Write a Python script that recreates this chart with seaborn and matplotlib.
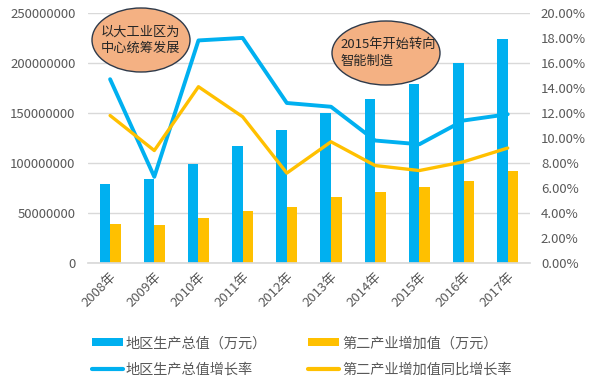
import numpy as np
import pandas as pd
import matplotlib
matplotlib.use("Agg")
import matplotlib.pyplot as plt
from matplotlib.patches import Ellipse, Patch
from matplotlib.lines import Line2D
from matplotlib.ticker import FuncFormatter, MultipleLocator
import seaborn as sns

years = ["2008年", "2009年", "2010年", "2011年", "2012年",
         "2013年", "2014年", "2015年", "2016年", "2017年"]
gdp = [79e6, 84e6, 99e6, 117e6, 133e6, 150e6, 164e6, 179e6, 200e6, 224e6]
secondary = [39e6, 38e6, 45e6, 52e6, 56e6, 66e6, 71e6, 76e6, 82e6, 92e6]
gdp_growth = [14.7, 6.9, 17.8, 18.0, 12.8, 12.5, 9.8, 9.5, 11.4, 11.9]
sec_growth = [11.8, 9.0, 14.1, 11.7, 7.2, 9.7, 7.8, 7.4, 8.1, 9.2]

bar_names = ["地区生产总值（万元）", "第二产业增加值（万元）"]
line_names = ["地区生产总值增长率", "第二产业增加值同比增长率"]
note1 = "以大工业区为\n中心统筹发展"
note2 = "2015年开始转向\n智能制造"

BLUE = "#00B0F0"
ORANGE = "#FFC000"
GREY = "#595959"

sns.set_theme(style="white")
plt.rcParams["font.family"] = ["Noto Sans CJK SC", "DejaVu Sans"]

bars = pd.DataFrame({
    "year": years * 2,
    "value": gdp + secondary,
    "series": [bar_names[0]] * len(years) + [bar_names[1]] * len(years),
})
lines = pd.DataFrame({
    "pos": np.arange(len(years)),
    "g1": gdp_growth,
    "g2": sec_growth,
})

fig = plt.figure(figsize=(6, 3.91), dpi=100)
ax = fig.add_axes([0.1467, 0.327, 0.7363, 0.64])

sns.barplot(data=bars, x="year", y="value", hue="series",
            palette=[BLUE, ORANGE], width=0.48, gap=0.0,
            ax=ax, legend=False, saturation=1, edgecolor="none", linewidth=0)
ax.set_ylim(0, 250e6)
ax.yaxis.set_major_locator(MultipleLocator(50e6))
ax.yaxis.set_major_formatter(FuncFormatter(lambda v, p: f"{int(v)}"))
ax.grid(axis="y", color="#D9D9D9", lw=1)
ax.set_axisbelow(True)
ax.set_xlabel("")
ax.set_ylabel("")
for s in ["top", "right", "left"]:
    ax.spines[s].set_visible(False)
ax.spines["bottom"].set_color("#D9D9D9")
ax.tick_params(axis="y", colors=GREY, labelsize=9.5, length=0, pad=9)
ax.tick_params(axis="x", colors=GREY, labelsize=9.5, length=0, pad=5)
for lab in ax.get_xticklabels():
    lab.set_rotation(45)
    lab.set_ha("right")
    lab.set_rotation_mode("anchor")
ax.set_xlim(-0.5, len(years) - 0.5)

ax2 = ax.twinx()
sns.lineplot(data=lines, x="pos", y="g1", color=BLUE, lw=2.8, ax=ax2)
sns.lineplot(data=lines, x="pos", y="g2", color=ORANGE, lw=2.4, ax=ax2)
ax2.set_ylim(0, 20)
ax2.yaxis.set_major_locator(MultipleLocator(2))
ax2.yaxis.set_major_formatter(FuncFormatter(lambda v, p: f"{v:.2f}%"))
ax2.set_xlim(-0.5, len(years) - 0.5)
ax2.set_ylabel("")
ax2.set_xlabel("")
for s in ax2.spines.values():
    s.set_visible(False)
ax2.tick_params(axis="y", colors=GREY, labelsize=9.5, length=0, pad=8)

W, H = 600, 391
def fx(px): return px / W
def fy(py): return 1 - py / H

for (cx, cy, w, h), txt, tx in [((141, 40, 98, 64), note1, 101),
                                ((386, 53, 108, 64), note2, 340)]:
    e = Ellipse((fx(cx), fy(cy)), w / W, h / H, transform=fig.transFigure,
                facecolor="#F4B183", edgecolor="#2F3A4A", lw=1.0, zorder=10)
    fig.add_artist(e)
    fig.text(fx(tx), fy(cy), txt, transform=fig.transFigure, ha="left",
             va="center", fontsize=9.5, color="#262626", linespacing=1.35,
             zorder=11)

handles = [Patch(facecolor=BLUE, edgecolor="none"),
           Line2D([0], [0], color=BLUE, lw=3),
           Patch(facecolor=ORANGE, edgecolor="none"),
           Line2D([0], [0], color=ORANGE, lw=3)]
labels = [bar_names[0], line_names[0], bar_names[1], line_names[1]]
fig.legend(handles, labels, loc="center", bbox_to_anchor=(0.503, 0.088),
           ncol=2, frameon=False, fontsize=10.2, labelcolor=GREY,
           handlelength=2.2, handleheight=0.5, handletextpad=0.2,
           columnspacing=2.9, labelspacing=0.9)

fig.savefig("out.png", dpi=100)
